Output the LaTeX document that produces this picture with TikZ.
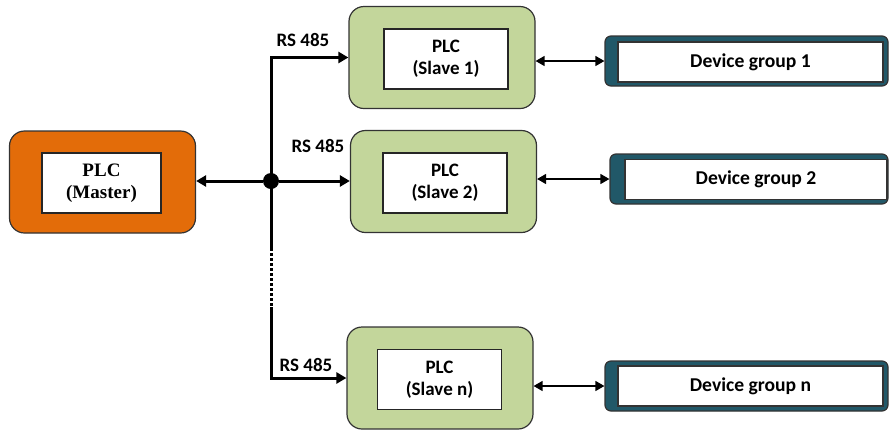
\documentclass[tikz,border=0pt]{standalone}
\usepackage{fontspec}
\setmainfont{Carlito}
\newfontfamily\masterfont{Liberation Serif}
\usetikzlibrary{arrows.meta}

\definecolor{plcorange}{HTML}{E36C09}
\definecolor{plcgreen}{HTML}{C3D69B}
\definecolor{devteal}{HTML}{215868}

\begin{document}
\begin{tikzpicture}[x=0.5pt, y=-0.5pt,
  outerbox/.style={rounded corners=7.5pt, draw=black!80, line width=0.6pt, minimum width=93pt, minimum height=51pt, inner sep=0pt},
  innerbox/.style={draw=black!85, fill=white, line width=0.6pt, minimum width=62pt, minimum height=30pt, inner sep=0pt, align=center, font=\bfseries\fontsize{9.5}{11}\selectfont},
  devbox/.style={rounded corners=3pt, fill=devteal, draw=black!80, line width=0.6pt, minimum width=141.5pt, minimum height=25pt, inner sep=0pt},
  devinner/.style={fill=white, draw=black!80, line width=0.6pt, minimum width=132.5pt, minimum height=20pt, inner sep=0pt, font=\bfseries\fontsize{9.8}{11}\selectfont},
  bus/.style={line width=1.5pt, -{Triangle[length=5pt,width=5.5pt]}},
  link/.style={line width=0.7pt, {Triangle[length=4.5pt,width=5pt]}-{Triangle[length=4.5pt,width=5pt]}},
  rslabel/.style={font=\bfseries\fontsize{9.5}{11}\selectfont, inner sep=0pt}
]
\useasboundingbox (0,0) rectangle (891,430);

% master
\node[outerbox, fill=plcorange] (m) at (102.5,182) {};
\node[innerbox, minimum width=59.5pt, font=\masterfont\bfseries\fontsize{9.5}{11}\selectfont] (mt) at (101.5,183) {PLC\\(Master)};

% slaves
\node[outerbox, fill=plcgreen] (s1) at (442,57.5) {};
\node[innerbox] (s1t) at (446,59) {PLC\\(Slave 1)};
\node[outerbox, fill=plcgreen] (s2) at (443.5,181.5) {};
\node[innerbox] (s2t) at (445,183) {PLC\\(Slave 2)};
\node[outerbox, fill=plcgreen] (sn) at (440,378) {};
\node[innerbox] (snt) at (439.5,379.5) {PLC\\(Slave n)};

% device groups
\node[devbox] (d1) at (746.5,61) {};
\node[devinner] (d1t) at (750.5,62) {Device group 1};
\node[devbox, minimum width=139pt] (d2) at (749,179) {};
\node[devinner, minimum width=131pt] (d2t) at (756,179.5) {Device group 2};
\node[devbox] (dn) at (746.5,386) {};
\node[devinner] (dnt) at (750.5,386) {Device group n};

% RS 485 bus
\coordinate (dotA) at (271,248);
\coordinate (dotB) at (271,307);
\draw[bus] (dotA) -- (dotA |- s1.west) -- (s1.west);
\draw[bus] (dotB) -- (dotB |- sn.west) -- (sn.west);
\draw[line width=1.5pt, dash pattern=on 1.5pt off 1pt] (dotA) -- (dotB);
\node[circle, fill=black, inner sep=0pt, minimum size=8pt] (bus) at (271,181) {};
\draw[bus] (bus) -- (bus -| m.east);
\draw[bus] (bus) -- (bus -| s2.west);

\node[rslabel] (rs1) at (303,40) {RS 485};
\node[rslabel] (rs2) at (318,146) {RS 485};
\node[rslabel] (rsn) at (306,365) {RS 485};

% slave <-> devices
\draw[link] (s1.east |- d1.west) -- (d1.west);
\draw[link] (s2.east |- d2.west) -- (d2.west);
\draw[link] (sn.east |- dn.west) -- (dn.west);

\end{tikzpicture}
\end{document}
